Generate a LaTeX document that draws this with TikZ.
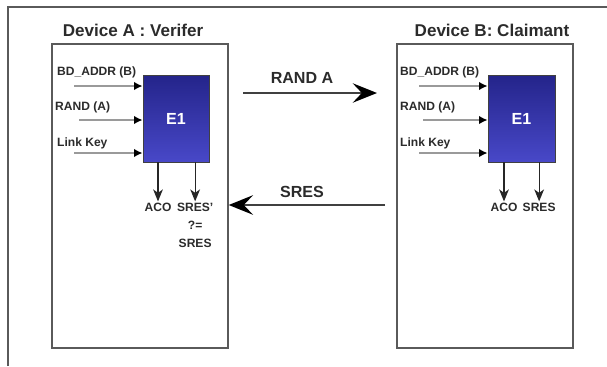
\documentclass[tikz,border=0pt]{standalone}
\usepackage{fontspec}
\setmainfont{Liberation Sans}
\usetikzlibrary{arrows.meta}
\definecolor{ink}{HTML}{2B2B2B}
\definecolor{frameline}{HTML}{5A5A5A}
\definecolor{feedline}{HTML}{9A9A9A}
\definecolor{cipherTop}{HTML}{24248A}
\definecolor{cipherBottom}{HTML}{4848C8}

\begin{document}
\begin{tikzpicture}[
  font=\bfseries\fontsize{12}{14}\selectfont, text=ink,
  device/.style={draw=frameline, line width=1.3pt, fill=white},
  cipher/.style={draw=black!75, line width=.8pt, top color=cipherTop,
    bottom color=cipherBottom, text=white, minimum width=2.31cm,
    minimum height=3.045cm, font=\bfseries\fontsize{16}{18}\selectfont},
  heading/.style={font=\bfseries\fontsize{17}{19}\selectfont},
  inlabel/.style={anchor=west, inner sep=0pt},
  outlabel/.style={anchor=north, align=center, inner sep=1pt,
    font=\bfseries\fontsize{12}{18}\selectfont},
  inarrow/.style={draw=feedline, line width=2.8pt,
    -{Latex[length=3mm, width=3mm, black]}},
  outarrow/.style={draw=black!85, line width=1.2pt,
    -{Stealth[length=4.2mm, width=3.4mm, inset=1.2mm]}},
  message/.style={draw=black!75, line width=2.2pt,
    -{Stealth[length=8.5mm, width=6.8mm, inset=3.2mm, black]}},
  msglabel/.style={font=\bfseries\fontsize{16}{18}\selectfont}
]
\useasboundingbox (0,0) rectangle (21.245,-12.81);

% Outer frame, only its top and left edges show.
\draw[frameline, line width=1.3pt] (0.28,-12.81) |- (21.245,-0.245);

% Device A: the verifier runs E1 and compares the results.
\node[heading] (titleA) at (4.655,-1.05) {Device A : Verifer};
\node[device, minimum width=6.16cm, minimum height=10.64cm] (devA) at (4.9,-6.86) {};
\node[cipher] (eA) at (6.16,-4.1475) {E1};
\node[inlabel] (addrA) at (1.995,-2.52) {BD\_ADDR (B)};
\node[inlabel] (randA) at (1.925,-3.745) {RAND (A)};
\node[inlabel] (keyA) at (1.995,-5.005) {Link Key};
\coordinate (addrInA) at (2.59,-3.01);
\coordinate (randInA) at (2.765,-4.2);
\coordinate (keyInA) at (2.59,-5.355);
\draw[inarrow] (addrInA) -- (addrInA -| eA.west);
\draw[inarrow] (randInA) -- (randInA -| eA.west);
\draw[inarrow] (keyInA) -- (keyInA -| eA.west);
\node[outlabel] (acoA) at (5.53,-7.05) {ACO};
\node[outlabel] (sresA) at (6.83,-7.05) {SRES'\\?=\\SRES};
\draw[outarrow] (eA.south -| acoA.north) -- (acoA.north);
\draw[outarrow] (eA.south -| sresA.north) -- (sresA.north);

% Device B: the claimant runs the same E1 on its own inputs.
\node[heading] (titleB) at (17.22,-1.05) {Device B: Claimant};
\node[device, minimum width=6.16cm, minimum height=10.64cm] (devB) at (16.975,-6.86) {};
\node[cipher, minimum width=2.345cm] (eB) at (18.2525,-4.1475) {E1};
\node[inlabel] (addrB) at (14.0,-2.52) {BD\_ADDR (B)};
\node[inlabel] (randB) at (14.0,-3.745) {RAND (A)};
\node[inlabel] (keyB) at (14.0,-5.005) {Link Key};
\coordinate (addrInB) at (14.665,-3.01);
\coordinate (randInB) at (14.805,-4.2);
\coordinate (keyInB) at (14.665,-5.355);
\draw[inarrow] (addrInB) -- (addrInB -| eB.west);
\draw[inarrow] (randInB) -- (randInB -| eB.west);
\draw[inarrow] (keyInB) -- (keyInB -| eB.west);
\node[outlabel] (acoB) at (17.64,-7.05) {ACO};
\node[outlabel] (sresB) at (18.87,-7.05) {SRES};
\draw[outarrow] (eB.south -| acoB.north) -- (acoB.north);
\draw[outarrow] (eB.south -| sresB.north) -- (sresB.north);

% Messages exchanged between the two devices.
\coordinate (randFrom) at (8.505,-3.255);
\coordinate (randTo) at (13.195,-3.255);
\draw[message] (randFrom) -- (randTo);
\node[msglabel] (randMsg) at (10.57,-2.73) {RAND A};
\coordinate (sresFrom) at (13.475,-7.175);
\draw[message] (sresFrom) -- (sresFrom -| devA.east);
\node[msglabel] (sresMsg) at (10.57,-6.72) {SRES};
\end{tikzpicture}
\end{document}
